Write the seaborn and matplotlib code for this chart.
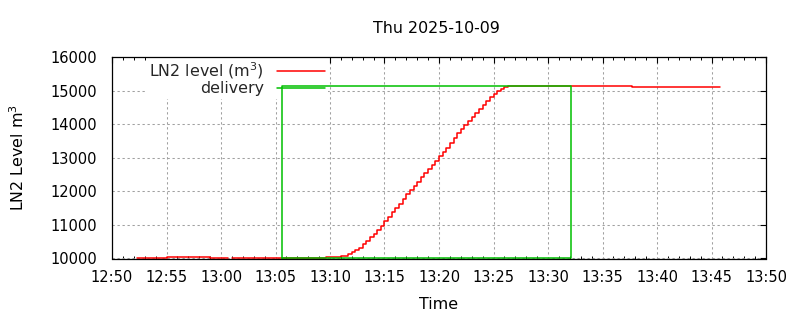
import matplotlib
matplotlib.use("Agg")
import matplotlib.pyplot as plt
import matplotlib.dates as mdates
import seaborn as sns
import pandas as pd
import numpy as np

DAY = "2025-10-09"

# LN2 level series (stepped), two segments separated by a data gap
level_seg1_times = ["12:52:19", "12:55:01", "12:59:00", "13:00:40"]
level_seg1_values = [10020, 10050, 10020, 10020]

level_seg2_times = [
    "13:00:59", "13:09:38", "13:11:02",
    "13:11:40", "13:12:00", "13:12:20", "13:12:40", "13:13:00", "13:13:20",
    "13:13:40", "13:14:00", "13:14:20", "13:14:40", "13:15:00", "13:15:20",
    "13:15:40", "13:16:00", "13:16:20", "13:16:40", "13:17:00", "13:17:20",
    "13:17:40", "13:18:00", "13:18:20", "13:18:40", "13:19:00", "13:19:20",
    "13:19:40", "13:20:00", "13:20:20", "13:20:40", "13:21:00", "13:21:20",
    "13:21:40", "13:22:00", "13:22:20", "13:22:40", "13:23:00", "13:23:20",
    "13:23:40", "13:24:00", "13:24:20", "13:24:40", "13:25:00", "13:25:20",
    "13:25:40", "13:26:00",
    "13:26:20", "13:37:41", "13:45:47",
]
level_seg2_values = [
    10020, 10040, 10070,
    10130, 10190, 10240, 10310, 10420, 10510,
    10630, 10730, 10840, 10970, 11110, 11250,
    11380, 11500, 11630, 11770, 11910, 12030,
    12150, 12280, 12420, 12540, 12660, 12780,
    12900, 13040, 13160, 13280, 13430, 13590,
    13730, 13850, 13970, 14090, 14210, 14330,
    14450, 14580, 14700, 14800, 14900, 14980,
    15060, 15120,
    15130, 15110, 15110,
]

# delivery window (drawn as a box)
delivery_times = ["13:05:34", "13:05:34", "13:32:05", "13:32:05", "13:05:34"]
delivery_values = [10020, 15140, 15140, 10020, 10020]

y_ticks = [10000, 11000, 12000, 13000, 14000, 15000, 16000]


def to_dt(ts):
    return pd.to_datetime([f"{DAY} {t}" for t in ts])


level_df = pd.DataFrame({
    "time": list(to_dt(level_seg1_times)) + list(to_dt(level_seg2_times)),
    "level": level_seg1_values + level_seg2_values,
    "seg": [1] * len(level_seg1_times) + [2] * len(level_seg2_times),
})
deliv_df = pd.DataFrame({"time": to_dt(delivery_times), "level": delivery_values})

FS_TICK = 10.5
FS = 11.4
sns.set_theme(style="white")
plt.rcParams["font.family"] = ["DejaVu Sans"]
plt.rcParams["font.size"] = FS

fig = plt.figure(figsize=(8, 3.2), dpi=100)
ax = fig.add_axes([112 / 800, 1 - 258.5 / 320, 654 / 800, 201.5 / 320])

sns.lineplot(data=level_df, x="time", y="level", units="seg", estimator=None,
             color="#ff0000", lw=1.1, drawstyle="steps-post", ax=ax,
             legend=False)
sns.lineplot(data=deliv_df, x="time", y="level", estimator=None, sort=False,
             color="#00c000", lw=1.1, ax=ax, legend=False)

ax.set_xlim(pd.Timestamp(f"{DAY} 12:50"), pd.Timestamp(f"{DAY} 13:50"))
ax.set_ylim(10000, 16000)
ax.set_yticks(y_ticks)
ax.xaxis.set_major_locator(mdates.MinuteLocator(byminute=range(0, 60, 5)))
ax.xaxis.set_minor_locator(mdates.MinuteLocator())
ax.xaxis.set_major_formatter(mdates.DateFormatter("%H:%M"))

ax.grid(True, which="major", color="#a0a0a0", lw=0.75, linestyle=(0, (2.2, 2.6)))
ax.set_axisbelow(True)
for s in ax.spines.values():
    s.set_color("black")
    s.set_linewidth(0.9)
    s.set_visible(True)

ax.tick_params(axis="both", which="major", direction="in", length=4, width=0.8,
               color="black", top=True, right=True, labelsize=FS_TICK,
               labelcolor="black")
ax.tick_params(axis="x", which="major", pad=8)
ax.tick_params(axis="y", which="major", pad=11)
ax.tick_params(axis="x", which="minor", direction="in", length=2, width=0.7,
               color="black", top=True, bottom=True)
ax.tick_params(axis="y", which="minor", left=False, right=False)

ax.set_xlabel("Time", fontsize=FS, color="black")
ax.set_ylabel("LN2 Level m$^3$", fontsize=FS, color="black")
ax.xaxis.set_label_coords(0.5, -0.19)
ax.yaxis.set_label_coords(-0.130, 0.5)

ax.set_title("Thu 2025-10-09", fontsize=FS, color="black", pad=17, x=0.496)

lines = ax.get_lines()
red_handle = lines[0]
green_handle = lines[-1]
leg = ax.legend([red_handle, green_handle], ["LN2 level (m$^3$)", "delivery"],
                loc="upper right", bbox_to_anchor=(0.330, 1.0),
                markerfirst=False, frameon=True, fancybox=False, framealpha=1,
                facecolor="white", edgecolor="none", borderpad=0.18,
                handlelength=3.03, handletextpad=0.82, labelspacing=0.04,
                borderaxespad=0, fontsize=FS)
leg.set_zorder(1)

fig.savefig("out.png", dpi=100)
